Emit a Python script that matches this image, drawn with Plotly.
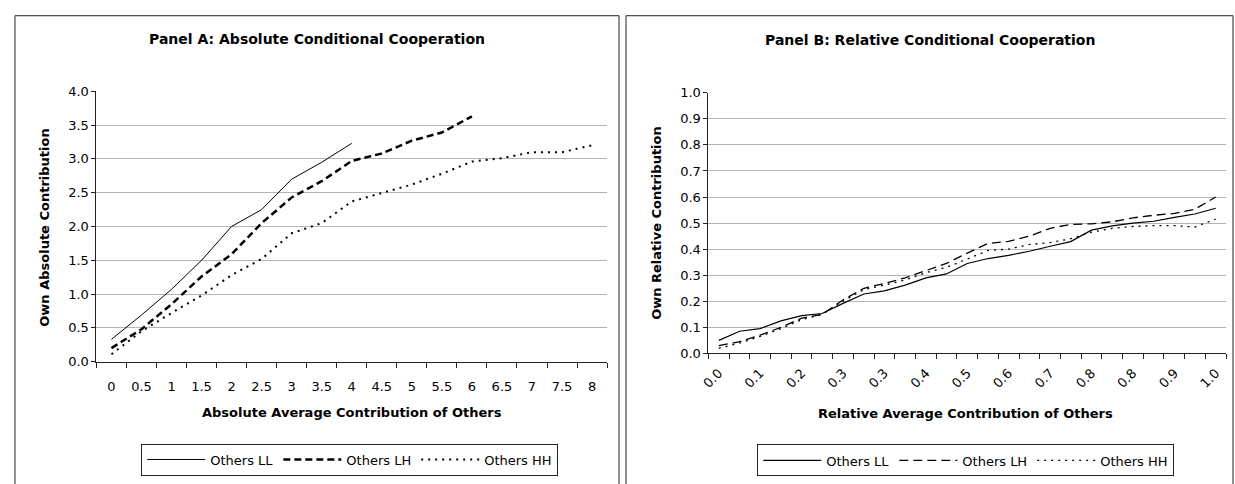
import plotly.graph_objects as go

# ---------------- data ----------------
x_abs = [0, 0.5, 1, 1.5, 2, 2.5, 3, 3.5, 4, 4.5, 5, 5.5, 6, 6.5, 7, 7.5, 8]
x_abs_labels = ["0", "0.5", "1", "1.5", "2", "2.5", "3", "3.5", "4", "4.5",
                "5", "5.5", "6", "6.5", "7", "7.5", "8"]
abs_LL = [0.33, 0.69, 1.07, 1.50, 2.00, 2.25, 2.70, 2.95, 3.23]
abs_LH = [0.20, 0.48, 0.85, 1.26, 1.59, 2.05, 2.43, 2.67, 2.97, 3.08, 3.27, 3.39, 3.63]
abs_HH = [0.11, 0.45, 0.72, 0.98, 1.28, 1.52, 1.90, 2.05, 2.37, 2.50, 2.62, 2.78,
          2.96, 3.01, 3.10, 3.10, 3.20]

x_rel = [0.000, 0.042, 0.083, 0.125, 0.167, 0.208, 0.250, 0.292, 0.333, 0.375,
         0.417, 0.458, 0.500, 0.542, 0.583, 0.625, 0.667, 0.708, 0.750, 0.792,
         0.833, 0.875, 0.917, 0.958, 1.000]
x_rel_tickvals = [0.000, 0.083, 0.167, 0.250, 0.333, 0.417, 0.500, 0.583, 0.667,
                  0.750, 0.833, 0.917, 1.000]
x_rel_labels = ["0.0", "0.1", "0.2", "0.3", "0.3", "0.4", "0.5", "0.6", "0.7",
                "0.8", "0.8", "0.9", "1.0"]
rel_LL = [0.050, 0.085, 0.095, 0.125, 0.145, 0.153, 0.192, 0.228, 0.240, 0.262,
          0.290, 0.305, 0.345, 0.364, 0.376, 0.392, 0.411, 0.429, 0.473, 0.489,
          0.500, 0.507, 0.522, 0.535, 0.557]
rel_LH = [0.030, 0.045, 0.070, 0.100, 0.135, 0.150, 0.205, 0.250, 0.268, 0.290,
          0.318, 0.345, 0.385, 0.422, 0.430, 0.450, 0.480, 0.495, 0.497, 0.505,
          0.520, 0.530, 0.537, 0.553, 0.600]
rel_HH = [0.020, 0.040, 0.065, 0.095, 0.130, 0.150, 0.200, 0.245, 0.262, 0.282,
          0.310, 0.330, 0.362, 0.395, 0.400, 0.418, 0.425, 0.440, 0.465, 0.480,
          0.487, 0.490, 0.490, 0.485, 0.515]

series_names = ["Others LL", "Others LH", "Others HH"]

# ---------------- geometry helpers ----------------
W, H = 1235, 484
def px(x):
    return x / W
def py(y):
    return 1 - y / H

FONT = "DejaVu Sans"
fig = go.Figure()

# Panel A traces
fig.add_trace(go.Scatter(x=x_abs[:len(abs_LL)], y=abs_LL, name=series_names[0], mode="lines",
                         line=dict(color="black", width=1), xaxis="x", yaxis="y", legend="legend"))
fig.add_trace(go.Scatter(x=x_abs[:len(abs_LH)], y=abs_LH, name=series_names[1], mode="lines",
                         line=dict(color="black", width=2.5, dash="7px,4px"), xaxis="x", yaxis="y",
                         legend="legend"))
fig.add_trace(go.Scatter(x=x_abs[:len(abs_HH)], y=abs_HH, name=series_names[2], mode="lines",
                         line=dict(color="black", width=2, dash="2px,5px"), xaxis="x", yaxis="y",
                         legend="legend"))

# Panel B traces
fig.add_trace(go.Scatter(x=x_rel, y=rel_LL, name=series_names[0], mode="lines",
                         line=dict(color="black", width=1.2), xaxis="x2", yaxis="y2", legend="legend2"))
fig.add_trace(go.Scatter(x=x_rel, y=rel_LH, name=series_names[1], mode="lines",
                         line=dict(color="black", width=1.3, dash="9px,5px"), xaxis="x2", yaxis="y2",
                         legend="legend2"))
fig.add_trace(go.Scatter(x=x_rel, y=rel_HH, name=series_names[2], mode="lines",
                         line=dict(color="black", width=1.3, dash="2px,5px"), xaxis="x2", yaxis="y2",
                         legend="legend2"))

grid = "#b4b4b4"
tickfont = dict(family=FONT, size=13, color="black")

fig.update_layout(
    width=W, height=H, autosize=False,
    margin=dict(l=0, r=0, t=0, b=0),
    paper_bgcolor="white", plot_bgcolor="white",
    font=dict(family=FONT, size=12, color="black"),
    xaxis=dict(domain=[px(89), px(603)], anchor="y", range=[-0.25, 8.25],
               tickmode="array", tickvals=x_abs, ticktext=x_abs_labels, ticks="",
               ticklabelstandoff=13, tickfont=tickfont,
               showline=True, linecolor="#222", linewidth=1, showgrid=False, zeroline=False,
               minor=dict(tickmode="linear", tick0=-0.25, dtick=0.5, ticks="outside",
                          ticklen=5, tickcolor="#222", showgrid=False)),
    yaxis=dict(domain=[py(366), py(87)], anchor="x", range=[0, 4], tickmode="linear",
               tick0=0, dtick=0.5, tickformat=".1f", ticks="outside", ticklen=4,
               tickcolor="#222", tickfont=tickfont,
               showline=True, linecolor="#222", linewidth=1, showgrid=True,
               gridcolor=grid, gridwidth=1, zeroline=False),
    xaxis2=dict(domain=[px(705), px(1226)], anchor="y2", range=[-1 / 48, 1 + 1 / 48],
                tickmode="array", tickvals=x_rel_tickvals, ticktext=x_rel_labels, ticks="",
                tickangle=-45, ticklabelstandoff=6, tickfont=tickfont,
                showline=True, linecolor="#222", linewidth=1, showgrid=False, zeroline=False,
                minor=dict(tickmode="linear", tick0=-1 / 48, dtick=1 / 24, ticks="outside",
                           ticklen=5, tickcolor="#222", showgrid=False)),
    yaxis2=dict(domain=[py(357.5), py(88.5)], anchor="x2", range=[0, 1], tickmode="linear",
                tick0=0, dtick=0.1, tickformat=".1f", ticks="outside", ticklen=4,
                tickcolor="#222", tickfont=tickfont,
                showline=True, linecolor="#222", linewidth=1, showgrid=True,
                gridcolor=grid, gridwidth=1, zeroline=False),
    legend=dict(orientation="h", x=px(344), y=py(467), xanchor="center", yanchor="middle",
                bordercolor="#222", borderwidth=1, bgcolor="white", itemwidth=58,
                font=dict(family=FONT, size=13, color="black"), traceorder="normal"),
    legend2=dict(orientation="h", x=px(964), y=py(468), xanchor="center", yanchor="middle",
                 bordercolor="#222", borderwidth=1, bgcolor="white", itemwidth=58,
                 font=dict(family=FONT, size=13, color="black"), traceorder="normal"),
    showlegend=True,
)

# Panel borders
fig.add_shape(type="rect", xref="paper", yref="paper", x0=px(7), x1=px(615), y0=py(500), y1=py(9),
              line=dict(color="#222", width=1), fillcolor="rgba(0,0,0,0)", layer="below")
fig.add_shape(type="rect", xref="paper", yref="paper", x0=px(622), x1=px(1233), y0=py(500), y1=py(9),
              line=dict(color="#222", width=1), fillcolor="rgba(0,0,0,0)", layer="below")

def ann(text, x, y, size, angle=0, bold=True):
    fig.add_annotation(text=f"<b>{text}</b>" if bold else text, xref="paper", yref="paper",
                       x=px(x), y=py(y), xanchor="center", yanchor="middle", showarrow=False,
                       textangle=angle, font=dict(family=FONT, size=size, color="black"))

ann("Panel A: Absolute Conditional Cooperation", 311, 33, 14)
ann("Panel B: Relative Conditional Cooperation", 928, 34, 14)
ann("Own Absolute Contribution", 37, 228, 13, angle=-90)
ann("Own Relative Contribution", 652, 223, 13, angle=-90)
ann("Absolute Average Contribution of Others", 346, 418, 13)
ann("Relative Average Contribution of Others", 964, 420, 13)

fig.write_html(
    "out.html",
    config={"responsive": False, "displayModeBar": False},
    post_script=("document.documentElement.style.margin='0';"
                 "document.documentElement.style.overflow='hidden';"
                 "document.body.style.margin='0';document.body.style.overflow='hidden';"),
)
